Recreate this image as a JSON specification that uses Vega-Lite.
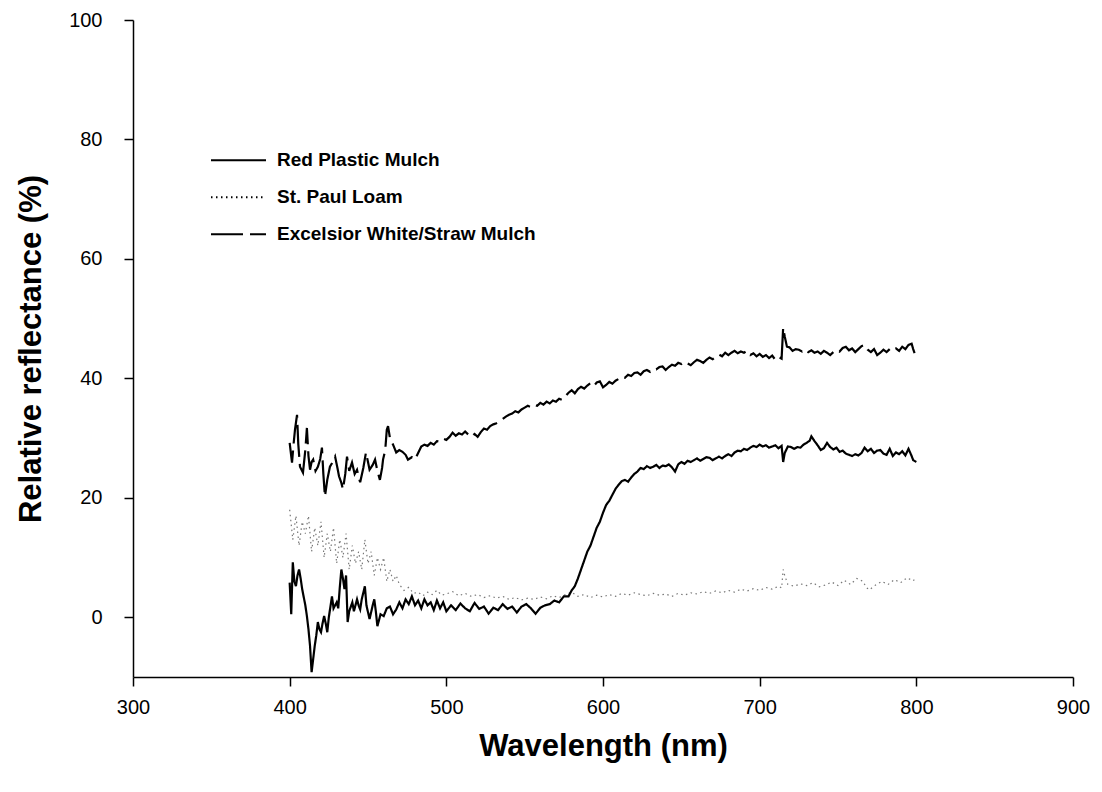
{
  "$schema": "https://vega.github.io/schema/vega-lite/v6.json",
  "width": 940,
  "height": 657,
  "autosize": {"type": "none"},
  "padding": {"left": 133, "top": 20, "right": 29, "bottom": 115},
  "background": "white",
  "config": {
    "view": {"stroke": null},
    "font": "Liberation Sans",
    "axis": {"grid": false, "domainColor": "black", "tickColor": "black", "labelColor": "black", "titleColor": "black", "domainWidth": 1.5, "tickWidth": 1.5, "tickSize": 9, "labelFontSize": 20, "titleFontSize": 31, "titleFontWeight": "bold", "labelFont": "Liberation Sans", "titleFont": "Liberation Sans", "labelFlush": false, "labelOverlap": false}
  },
  "datasets": {
    "red": [
      {"nm":400,"pct":5.8},{"nm":401,"pct":0.5},{"nm":402,"pct":9.2},{"nm":403,"pct":6},{"nm":404,"pct":5.2},{"nm":405,"pct":7},{"nm":406,"pct":8},{"nm":407,"pct":6.5},{"nm":408,"pct":4.7},{"nm":410,"pct":2},{"nm":411,"pct":0.2},{"nm":412,"pct":-2},{"nm":413,"pct":-4.8},{"nm":414,"pct":-9.2},{"nm":415,"pct":-7},{"nm":416,"pct":-4.8},{"nm":417,"pct":-3},{"nm":418,"pct":-0.8},{"nm":419,"pct":-2},{"nm":420,"pct":-2.5},{"nm":421,"pct":-1},{"nm":422,"pct":0.2},{"nm":423,"pct":-1},{"nm":424,"pct":-2.5},{"nm":425,"pct":0},{"nm":427,"pct":3.5},{"nm":428,"pct":1.5},{"nm":430,"pct":2.5},{"nm":431,"pct":1.5},{"nm":432,"pct":5},{"nm":433,"pct":8},{"nm":434,"pct":6.5},{"nm":435,"pct":4.7},{"nm":436,"pct":7},{"nm":437,"pct":-0.8},{"nm":438,"pct":1},{"nm":440,"pct":2.5},{"nm":441,"pct":1},{"nm":442,"pct":2},{"nm":443,"pct":3},{"nm":444,"pct":2},{"nm":445,"pct":1.3},{"nm":446,"pct":3},{"nm":448,"pct":5.2},{"nm":449,"pct":2},{"nm":451,"pct":-0.3},{"nm":453,"pct":2},{"nm":454,"pct":3},{"nm":455,"pct":1},{"nm":456,"pct":-1.5},{"nm":458,"pct":0.5},{"nm":460,"pct":0.2},{"nm":462,"pct":1.5},{"nm":464,"pct":1.8},{"nm":466,"pct":0.5},{"nm":468,"pct":1.3},{"nm":470,"pct":2.5},{"nm":472,"pct":1.5},{"nm":474,"pct":3},{"nm":476,"pct":2.2},{"nm":478,"pct":3.5},{"nm":480,"pct":2},{"nm":482,"pct":2.8},{"nm":484,"pct":1.5},{"nm":486,"pct":3},{"nm":488,"pct":2},{"nm":490,"pct":2.5},{"nm":492,"pct":1.2},{"nm":494,"pct":2.8},{"nm":496,"pct":1.5},{"nm":498,"pct":2.5},{"nm":500,"pct":1},{"nm":503,"pct":2},{"nm":506,"pct":1.2},{"nm":509,"pct":2.3},{"nm":512,"pct":1.5},{"nm":515,"pct":1},{"nm":518,"pct":2.4},{"nm":521,"pct":1.4},{"nm":524,"pct":1.8},{"nm":527,"pct":0.6},{"nm":530,"pct":1.6},{"nm":533,"pct":1.2},{"nm":536,"pct":2.2},{"nm":539,"pct":1.4},{"nm":542,"pct":1.8},{"nm":545,"pct":0.8},{"nm":548,"pct":1.8},{"nm":551,"pct":2.2},{"nm":554,"pct":1.5},{"nm":557,"pct":0.6},{"nm":560,"pct":1.6},{"nm":563,"pct":2},{"nm":566,"pct":2.2},{"nm":569,"pct":2.8},{"nm":572,"pct":2.5},{"nm":575,"pct":3.5},{"nm":578,"pct":3.5},{"nm":580,"pct":4.5},{"nm":582,"pct":5.2},{"nm":584,"pct":6.5},{"nm":586,"pct":8},{"nm":588,"pct":9.5},{"nm":590,"pct":11},{"nm":592,"pct":12},{"nm":594,"pct":13.5},{"nm":596,"pct":15},{"nm":598,"pct":16},{"nm":600,"pct":17.5},{"nm":602,"pct":18.8},{"nm":604,"pct":19.5},{"nm":606,"pct":20.5},{"nm":608,"pct":21.5},{"nm":610,"pct":22.2},{"nm":612,"pct":22.8},{"nm":614,"pct":23},{"nm":616,"pct":22.7},{"nm":618,"pct":23.4},{"nm":620,"pct":24},{"nm":622,"pct":24.4},{"nm":624,"pct":25},{"nm":626,"pct":24.8},{"nm":628,"pct":25.3},{"nm":630,"pct":25},{"nm":632,"pct":25.2},{"nm":634,"pct":25.5},{"nm":636,"pct":25},{"nm":638,"pct":25.4},{"nm":640,"pct":25.3},{"nm":642,"pct":25.6},{"nm":644,"pct":25.1},{"nm":646,"pct":24.4},{"nm":648,"pct":25.6},{"nm":650,"pct":26},{"nm":652,"pct":25.7},{"nm":654,"pct":26.2},{"nm":656,"pct":26},{"nm":658,"pct":26.3},{"nm":660,"pct":26.6},{"nm":662,"pct":26.2},{"nm":664,"pct":26.5},{"nm":666,"pct":26.8},{"nm":668,"pct":26.7},{"nm":670,"pct":26.3},{"nm":672,"pct":26.6},{"nm":674,"pct":26.9},{"nm":676,"pct":26.6},{"nm":678,"pct":27},{"nm":680,"pct":27.3},{"nm":682,"pct":27},{"nm":684,"pct":27.6},{"nm":686,"pct":27.9},{"nm":688,"pct":27.8},{"nm":690,"pct":28.2},{"nm":692,"pct":28},{"nm":694,"pct":28.4},{"nm":696,"pct":28.7},{"nm":698,"pct":28.5},{"nm":700,"pct":28.9},{"nm":702,"pct":28.6},{"nm":704,"pct":28.8},{"nm":706,"pct":28.4},{"nm":708,"pct":28.6},{"nm":710,"pct":28.8},{"nm":712,"pct":28.3},{"nm":714,"pct":28.7},{"nm":715,"pct":26},{"nm":716,"pct":27.5},{"nm":718,"pct":28.6},{"nm":720,"pct":28.5},{"nm":722,"pct":28.2},{"nm":724,"pct":28.5},{"nm":726,"pct":28.4},{"nm":728,"pct":28.9},{"nm":730,"pct":29.2},{"nm":732,"pct":29.6},{"nm":733,"pct":30.3},{"nm":735,"pct":29.5},{"nm":737,"pct":28.8},{"nm":739,"pct":28},{"nm":741,"pct":28.3},{"nm":743,"pct":29.2},{"nm":745,"pct":28.5},{"nm":747,"pct":28.1},{"nm":749,"pct":28.4},{"nm":751,"pct":27.7},{"nm":753,"pct":27.9},{"nm":755,"pct":27.4},{"nm":757,"pct":27.2},{"nm":759,"pct":27},{"nm":761,"pct":27.3},{"nm":763,"pct":27.1},{"nm":765,"pct":27.5},{"nm":767,"pct":28.4},{"nm":769,"pct":27.8},{"nm":771,"pct":28.2},{"nm":773,"pct":27.5},{"nm":775,"pct":27.9},{"nm":777,"pct":28},{"nm":779,"pct":27.4},{"nm":781,"pct":27.2},{"nm":783,"pct":28.2},{"nm":785,"pct":27},{"nm":787,"pct":27.6},{"nm":789,"pct":27.3},{"nm":791,"pct":27.8},{"nm":793,"pct":27.1},{"nm":795,"pct":28.2},{"nm":797,"pct":27},{"nm":798,"pct":26.3},{"nm":800,"pct":26}
    ],
    "loam": [
      {"nm":400,"pct":18},{"nm":402,"pct":13},{"nm":404,"pct":17},{"nm":406,"pct":12},{"nm":408,"pct":16},{"nm":410,"pct":14},{"nm":412,"pct":17},{"nm":414,"pct":11},{"nm":416,"pct":15},{"nm":418,"pct":12},{"nm":420,"pct":16},{"nm":422,"pct":10},{"nm":424,"pct":14},{"nm":426,"pct":11},{"nm":428,"pct":15},{"nm":430,"pct":9},{"nm":432,"pct":13},{"nm":434,"pct":10},{"nm":436,"pct":14},{"nm":438,"pct":8},{"nm":440,"pct":12},{"nm":442,"pct":9},{"nm":444,"pct":11},{"nm":446,"pct":8},{"nm":448,"pct":13},{"nm":450,"pct":9},{"nm":452,"pct":11},{"nm":454,"pct":7},{"nm":456,"pct":10},{"nm":458,"pct":8},{"nm":460,"pct":10},{"nm":462,"pct":6},{"nm":464,"pct":8},{"nm":466,"pct":6},{"nm":468,"pct":7},{"nm":470,"pct":5.5},{"nm":473,"pct":4.5},{"nm":476,"pct":5},{"nm":479,"pct":4},{"nm":482,"pct":4.2},{"nm":485,"pct":3.6},{"nm":488,"pct":4.2},{"nm":491,"pct":3.8},{"nm":494,"pct":4.5},{"nm":497,"pct":3.7},{"nm":500,"pct":3.9},{"nm":504,"pct":4.3},{"nm":508,"pct":3.6},{"nm":512,"pct":4},{"nm":516,"pct":3.5},{"nm":520,"pct":3.8},{"nm":524,"pct":3.3},{"nm":528,"pct":3.6},{"nm":532,"pct":3.2},{"nm":536,"pct":3.5},{"nm":540,"pct":3},{"nm":544,"pct":3.3},{"nm":548,"pct":2.9},{"nm":552,"pct":3.2},{"nm":556,"pct":3},{"nm":560,"pct":3.4},{"nm":564,"pct":3.1},{"nm":568,"pct":3.6},{"nm":572,"pct":3.3},{"nm":576,"pct":3.8},{"nm":580,"pct":4.2},{"nm":584,"pct":3.5},{"nm":588,"pct":3.8},{"nm":592,"pct":3.3},{"nm":596,"pct":3.7},{"nm":600,"pct":3.4},{"nm":604,"pct":3.8},{"nm":608,"pct":3.5},{"nm":612,"pct":4},{"nm":616,"pct":3.7},{"nm":620,"pct":4.1},{"nm":624,"pct":3.8},{"nm":628,"pct":3.6},{"nm":632,"pct":4},{"nm":636,"pct":3.7},{"nm":640,"pct":3.9},{"nm":644,"pct":3.5},{"nm":648,"pct":4},{"nm":652,"pct":3.7},{"nm":656,"pct":4.1},{"nm":660,"pct":3.9},{"nm":664,"pct":4.3},{"nm":668,"pct":4},{"nm":672,"pct":4.4},{"nm":676,"pct":4.1},{"nm":680,"pct":4.5},{"nm":684,"pct":4.2},{"nm":688,"pct":4.7},{"nm":692,"pct":4.4},{"nm":696,"pct":4.8},{"nm":700,"pct":4.5},{"nm":704,"pct":5},{"nm":708,"pct":4.7},{"nm":712,"pct":5.2},{"nm":714,"pct":4.9},{"nm":715,"pct":8},{"nm":716,"pct":7},{"nm":718,"pct":5.5},{"nm":722,"pct":5.2},{"nm":726,"pct":5.6},{"nm":730,"pct":5.3},{"nm":734,"pct":5.8},{"nm":738,"pct":5.1},{"nm":742,"pct":5.4},{"nm":746,"pct":5.9},{"nm":750,"pct":5.3},{"nm":754,"pct":6.2},{"nm":758,"pct":5.5},{"nm":762,"pct":6.5},{"nm":766,"pct":6},{"nm":768,"pct":5},{"nm":770,"pct":4.6},{"nm":774,"pct":5.4},{"nm":778,"pct":6},{"nm":782,"pct":5.5},{"nm":786,"pct":6.3},{"nm":790,"pct":5.8},{"nm":794,"pct":6.6},{"nm":798,"pct":6.1},{"nm":800,"pct":6.7}
    ],
    "straw": [
      {"nm":400,"pct":29.2},{"nm":401,"pct":27},{"nm":401.5,"pct":25.9},{"nm":402.5,"pct":29},{"nm":403.4,"pct":31.4},{"nm":404.7,"pct":33.9},{"nm":405.5,"pct":29},{"nm":406.6,"pct":25.2},{"nm":408.5,"pct":24.2},{"nm":410,"pct":28},{"nm":411,"pct":31.7},{"nm":412,"pct":27},{"nm":413,"pct":24.7},{"nm":414,"pct":26},{"nm":415,"pct":26.4},{"nm":416.5,"pct":24.5},{"nm":418,"pct":25.2},{"nm":419.5,"pct":26.5},{"nm":420.6,"pct":28.4},{"nm":421.5,"pct":24},{"nm":422.5,"pct":20.2},{"nm":424,"pct":23},{"nm":425.7,"pct":25.2},{"nm":427.5,"pct":26},{"nm":429,"pct":26.9},{"nm":430.5,"pct":25},{"nm":431.5,"pct":23.6},{"nm":433,"pct":22.5},{"nm":434,"pct":21.4},{"nm":435.5,"pct":24},{"nm":436.6,"pct":26.9},{"nm":438,"pct":24.5},{"nm":439.8,"pct":25.9},{"nm":441.5,"pct":24},{"nm":443,"pct":24.7},{"nm":444,"pct":23.5},{"nm":445,"pct":22.6},{"nm":447,"pct":25},{"nm":448.7,"pct":27.6},{"nm":450,"pct":26},{"nm":451,"pct":24.7},{"nm":453,"pct":25.5},{"nm":454.5,"pct":26.4},{"nm":456,"pct":24.5},{"nm":457.6,"pct":23},{"nm":459,"pct":25},{"nm":459.6,"pct":26.4},{"nm":461,"pct":28},{"nm":462,"pct":31.4},{"nm":462.8,"pct":32},{"nm":464,"pct":30},{"nm":466,"pct":28.9},{"nm":468,"pct":27.6},{"nm":470,"pct":28},{"nm":472,"pct":27.7},{"nm":474,"pct":27.2},{"nm":475.5,"pct":26.4},{"nm":478,"pct":26.8},{"nm":480,"pct":26.4},{"nm":482,"pct":27.5},{"nm":484,"pct":28.6},{"nm":486,"pct":28.9},{"nm":488,"pct":28.7},{"nm":490,"pct":29.2},{"nm":492,"pct":28.9},{"nm":494,"pct":29.5},{"nm":496,"pct":29.4},{"nm":498,"pct":29.9},{"nm":500,"pct":29.7},{"nm":502,"pct":30.2},{"nm":504,"pct":30.9},{"nm":506,"pct":30.4},{"nm":508,"pct":30.8},{"nm":510,"pct":30.6},{"nm":512,"pct":31.1},{"nm":514,"pct":30.6},{"nm":516,"pct":30.2},{"nm":518,"pct":30.7},{"nm":520,"pct":30.2},{"nm":522,"pct":31},{"nm":524,"pct":31.6},{"nm":526,"pct":31.4},{"nm":528,"pct":32},{"nm":530,"pct":32.3},{"nm":532,"pct":32.5},{"nm":534,"pct":32.8},{"nm":536,"pct":33.2},{"nm":538,"pct":33.6},{"nm":540,"pct":33.9},{"nm":542,"pct":34.1},{"nm":544,"pct":34.5},{"nm":546,"pct":34.3},{"nm":548,"pct":34.8},{"nm":550,"pct":35.1},{"nm":552,"pct":35.4},{"nm":554,"pct":35.2},{"nm":556,"pct":35.6},{"nm":558,"pct":35.4},{"nm":560,"pct":35.9},{"nm":562,"pct":35.6},{"nm":564,"pct":36.1},{"nm":566,"pct":35.8},{"nm":568,"pct":36.3},{"nm":570,"pct":36.1},{"nm":572,"pct":36.6},{"nm":574,"pct":36.4},{"nm":576,"pct":37},{"nm":578,"pct":37.6},{"nm":580,"pct":38},{"nm":582,"pct":37.5},{"nm":584,"pct":38.2},{"nm":586,"pct":38.6},{"nm":588,"pct":38.3},{"nm":590,"pct":38.8},{"nm":592,"pct":39.2},{"nm":594,"pct":38.7},{"nm":596,"pct":39.3},{"nm":598,"pct":39.5},{"nm":600,"pct":38.5},{"nm":602,"pct":38.9},{"nm":604,"pct":39.4},{"nm":606,"pct":39.1},{"nm":608,"pct":39.6},{"nm":610,"pct":39.9},{"nm":612,"pct":40.3},{"nm":614,"pct":40.1},{"nm":616,"pct":40.6},{"nm":618,"pct":40.4},{"nm":620,"pct":40.9},{"nm":622,"pct":41},{"nm":624,"pct":40.6},{"nm":626,"pct":41.2},{"nm":628,"pct":41.4},{"nm":630,"pct":41.1},{"nm":632,"pct":41.6},{"nm":634,"pct":41.5},{"nm":636,"pct":41.9},{"nm":638,"pct":42},{"nm":640,"pct":41.4},{"nm":642,"pct":41.9},{"nm":644,"pct":42.3},{"nm":646,"pct":42.1},{"nm":648,"pct":42.6},{"nm":650,"pct":42.4},{"nm":652,"pct":42.8},{"nm":654,"pct":42.5},{"nm":656,"pct":42.2},{"nm":658,"pct":42.7},{"nm":660,"pct":43.1},{"nm":662,"pct":42.9},{"nm":664,"pct":42.6},{"nm":666,"pct":43.1},{"nm":668,"pct":43.5},{"nm":670,"pct":43.2},{"nm":672,"pct":43.6},{"nm":674,"pct":44},{"nm":676,"pct":43.7},{"nm":678,"pct":44.3},{"nm":680,"pct":43.9},{"nm":682,"pct":44.3},{"nm":684,"pct":44.6},{"nm":686,"pct":44.2},{"nm":688,"pct":44.5},{"nm":690,"pct":44.3},{"nm":692,"pct":44.6},{"nm":694,"pct":43.9},{"nm":696,"pct":44.2},{"nm":698,"pct":43.7},{"nm":700,"pct":44.1},{"nm":702,"pct":43.6},{"nm":704,"pct":43.9},{"nm":706,"pct":43.4},{"nm":708,"pct":43.8},{"nm":710,"pct":43.1},{"nm":712,"pct":43.6},{"nm":714,"pct":43.3},{"nm":715,"pct":48.5},{"nm":716,"pct":47},{"nm":717.4,"pct":45.3},{"nm":719,"pct":45.2},{"nm":721,"pct":44.6},{"nm":723,"pct":44.9},{"nm":725,"pct":44.8},{"nm":727,"pct":44.5},{"nm":729,"pct":44.9},{"nm":731,"pct":44.4},{"nm":733,"pct":44.7},{"nm":735,"pct":44.3},{"nm":737,"pct":44.5},{"nm":739,"pct":44.1},{"nm":741,"pct":44.6},{"nm":743,"pct":44.3},{"nm":745,"pct":43.9},{"nm":747,"pct":44.4},{"nm":749,"pct":44.8},{"nm":751,"pct":44.5},{"nm":753,"pct":45.1},{"nm":755,"pct":45.3},{"nm":757,"pct":44.7},{"nm":759,"pct":45},{"nm":761,"pct":44.4},{"nm":763,"pct":44.9},{"nm":765,"pct":45.4},{"nm":767,"pct":45.6},{"nm":769,"pct":44.8},{"nm":771,"pct":44.4},{"nm":773,"pct":44.9},{"nm":775,"pct":43.9},{"nm":777,"pct":44.3},{"nm":779,"pct":44.8},{"nm":781,"pct":44.4},{"nm":783,"pct":44.9},{"nm":785,"pct":44.6},{"nm":787,"pct":45},{"nm":789,"pct":44.6},{"nm":791,"pct":45.3},{"nm":793,"pct":44.9},{"nm":795,"pct":45.6},{"nm":797,"pct":45.8},{"nm":798,"pct":44.9},{"nm":800,"pct":43.4}
    ]
  },
  "encoding": {
    "x": {"field": "nm", "type": "quantitative", "scale": {"domain": [300, 900], "nice": false, "zero": false}, "axis": {"values": [300, 400, 500, 600, 700, 800, 900], "title": "Wavelength (nm)", "labelPadding": 11, "titlePadding": 14}},
    "y": {"field": "pct", "type": "quantitative", "scale": {"domain": [-10, 100], "nice": false, "zero": false}, "axis": {"values": [0, 20, 40, 60, 80, 100], "title": "Relative reflectance (%)", "labelPadding": 22, "titlePadding": 21}}
  },
  "layer": [
    {
      "data": {"name": "loam"},
      "mark": {"type": "line", "strokeWidth": 1.2, "color": "#777", "strokeCap": "butt"},
      "encoding": {
        "strokeDash": {"datum": "St. Paul Loam", "type": "nominal", "scale": {"domain": ["Red Plastic Mulch", "St. Paul Loam", "Excelsior White/Straw Mulch"], "range": [[1, 0], [1.5, 3.5], [32, 7]]}, "legend": {"title": null, "orient": "none", "legendX": 77, "legendY": 122, "symbolType": "stroke", "symbolSize": 3025, "symbolStrokeWidth": 2, "symbolStrokeColor": "black", "labelFontSize": 19, "labelFontWeight": "bold", "labelColor": "black", "labelFont": "Liberation Sans", "labelOffset": 10, "clipHeight": 36.5, "rowPadding": 0, "labelLimit": 500}}
      }
    },
    {
      "data": {"name": "red"},
      "mark": {"type": "line", "strokeWidth": 2.2, "color": "black"},
      "encoding": {"strokeDash": {"datum": "Red Plastic Mulch", "type": "nominal"}}
    },
    {
      "data": {"name": "straw"},
      "mark": {"type": "line", "strokeWidth": 2.2, "color": "black"},
      "encoding": {"strokeDash": {"datum": "Excelsior White/Straw Mulch", "type": "nominal"}}
    }
  ]
}
